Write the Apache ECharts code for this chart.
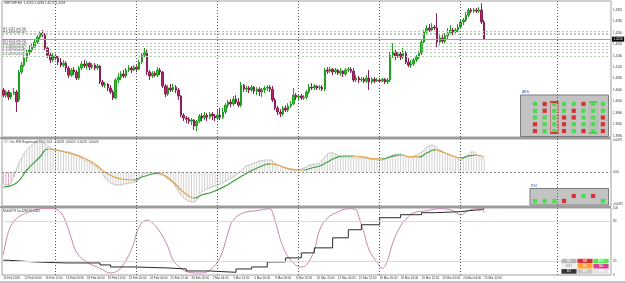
<!DOCTYPE html>
<html><head><meta charset="utf-8">
<script src="https://cdn.jsdelivr.net/npm/echarts@6.0.0/dist/echarts.min.js"></script>
<style>html,body{margin:0;padding:0;background:#fff}#c{width:625px;height:283px}</style>
</head><body><div id="c"></div>
<script>
// ---------- DATA ----------
const slotCount = 233;
const timeLabels = ["11 Feb 2010","12 Feb 04:00","15 Feb 12:00","16 Feb 20:00","18 Feb 04:00","19 Feb 12:00","22 Feb 20:00","24 Feb 04:00","25 Feb 12:00","26 Feb 20:00","2 Mar 04:00","3 Mar 12:00","4 Mar 20:00","8 Mar 04:00","9 Mar 12:00","10 Mar 20:00","12 Mar 04:00","15 Mar 12:00","16 Mar 20:00","18 Mar 04:00","19 Mar 12:00","22 Mar 20:00","24 Mar 04:00","25 Mar 12:00"];
const priceTicks = [1.3880,1.3920,1.3960,1.4000,1.4040,1.4080,1.4120,1.4160,1.4200,1.4240,1.4280,1.4320];
const oscTicks = [-0.0075, 0, 0.0075];
const stochTicks = [0, 20, 80, 100];
const stochLevels = [80, 20];
const separatorIdx = [20, 51, 82, 113, 144, 175, 212];
const levelPrices = [1.42465, 1.42395, 1.4236, 1.42045, 1.4194, 1.41835, 1.4173, 1.4159];
const levelLabels = ["H:1.4247 (w0.03)", "", "H:1.4236 (w0.02)", "M:1.4205 (w0.01)", "M:1.4194 (w0.01)", "L:1.4184 (w0.02)", "L:1.4173 (w0.03)", "L:1.4159 (w0.03)"];
const lastPrice = 1.4218;

const open = [1.4040,1.4022,1.4033,1.4015,1.4029,1.4033,1.4005,1.4103,1.4127,1.4152,
1.4173,1.4180,1.4190,1.4208,1.4225,1.4239,1.4232,1.4187,1.4162,1.4145,
1.4159,1.4152,1.4138,1.4127,1.4134,1.4117,1.4092,1.4110,1.4103,1.4082,
1.4117,1.4131,1.4124,1.4134,1.4120,1.4127,1.4117,1.4124,1.4068,1.4057,
1.4061,1.4047,1.4033,1.4012,1.4075,1.4085,1.4096,1.4089,1.4110,1.4117,
1.4110,1.4120,1.4113,1.4138,1.4162,1.4173,1.4103,1.4089,1.4099,1.4092,
1.4110,1.4103,1.4054,1.4026,1.4047,1.4040,1.4050,1.4040,1.4019,1.3952,
1.3942,1.3938,1.3931,1.3935,1.3914,1.3931,1.3949,1.3942,1.3952,1.3945,
1.3956,1.3949,1.3942,1.3952,1.3945,1.3963,1.3987,1.3998,1.3991,1.4008,
1.3998,1.3987,1.4057,1.4043,1.4047,1.4040,1.4050,1.4036,1.4043,1.4033,
1.4040,1.4047,1.4050,1.4043,1.4005,1.3977,1.3963,1.3956,1.3977,1.3970,
1.3984,1.3991,1.4022,1.4015,1.4019,1.4012,1.4015,1.4033,1.4050,1.4047,
1.4054,1.4047,1.4050,1.4043,1.4110,1.4106,1.4113,1.4103,1.4110,1.4099,
1.4106,1.4096,1.4110,1.4113,1.4106,1.4075,1.4082,1.4075,1.4078,1.4071,
1.4082,1.4068,1.4078,1.4071,1.4075,1.4071,1.4078,1.4068,1.4075,1.4162,
1.4173,1.4159,1.4166,1.4155,1.4169,1.4138,1.4127,1.4131,1.4145,1.4155,
1.4169,1.4208,1.4243,1.4257,1.4250,1.4260,1.4257,1.4208,1.4222,1.4211,
1.4229,1.4239,1.4250,1.4243,1.4250,1.4260,1.4278,1.4285,1.4302,1.4320,
1.4316,1.4320,1.4316,1.4320,1.4278];
const close = [1.4022,1.4033,1.4015,1.4029,1.4033,1.3998,1.4103,1.4127,1.4152,1.4173,
1.4180,1.4190,1.4208,1.4225,1.4239,1.4232,1.4187,1.4162,1.4145,1.4159,
1.4152,1.4138,1.4127,1.4134,1.4117,1.4092,1.4110,1.4103,1.4082,1.4117,
1.4131,1.4124,1.4134,1.4120,1.4127,1.4117,1.4124,1.4068,1.4057,1.4061,
1.4047,1.4033,1.4012,1.4075,1.4085,1.4096,1.4089,1.4110,1.4117,1.4110,
1.4120,1.4113,1.4138,1.4162,1.4173,1.4103,1.4089,1.4099,1.4092,1.4110,
1.4103,1.4054,1.4026,1.4047,1.4040,1.4050,1.4040,1.4019,1.3952,1.3942,
1.3938,1.3931,1.3935,1.3914,1.3931,1.3949,1.3942,1.3952,1.3945,1.3956,
1.3949,1.3942,1.3952,1.3945,1.3963,1.3987,1.3998,1.3991,1.4008,1.3998,
1.3987,1.4057,1.4043,1.4047,1.4040,1.4050,1.4036,1.4043,1.4033,1.4040,
1.4047,1.4050,1.4043,1.4005,1.3977,1.3963,1.3956,1.3977,1.3970,1.3984,
1.3991,1.4022,1.4015,1.4019,1.4012,1.4015,1.4033,1.4050,1.4047,1.4054,
1.4047,1.4050,1.4043,1.4110,1.4106,1.4113,1.4103,1.4110,1.4099,1.4106,
1.4096,1.4110,1.4113,1.4106,1.4075,1.4082,1.4075,1.4078,1.4071,1.4082,
1.4068,1.4078,1.4071,1.4075,1.4071,1.4078,1.4068,1.4075,1.4162,1.4173,
1.4159,1.4166,1.4155,1.4169,1.4138,1.4127,1.4131,1.4145,1.4155,1.4169,
1.4208,1.4243,1.4257,1.4250,1.4260,1.4257,1.4208,1.4222,1.4211,1.4229,
1.4239,1.4250,1.4243,1.4250,1.4260,1.4278,1.4285,1.4302,1.4320,1.4316,
1.4320,1.4316,1.4320,1.4278,1.4218];
const low = [1.4015,1.4012,1.4005,1.4008,1.4022,1.3963,1.3998,1.4096,1.4120,1.4138,
1.4162,1.4169,1.4187,1.4201,1.4215,1.4225,1.4180,1.4152,1.4134,1.4138,
1.4145,1.4127,1.4120,1.4120,1.4103,1.4082,1.4085,1.4092,1.4075,1.4075,
1.4110,1.4117,1.4113,1.4110,1.4113,1.4110,1.4110,1.4061,1.4050,1.4047,
1.4036,1.4026,1.4005,1.4008,1.4064,1.4075,1.4082,1.4082,1.4103,1.4099,
1.4106,1.4103,1.4110,1.4131,1.4155,1.4092,1.4075,1.4082,1.4085,1.4085,
1.4092,1.4047,1.4015,1.4019,1.4033,1.4033,1.4029,1.4005,1.3945,1.3931,
1.3924,1.3921,1.3917,1.3900,1.3896,1.3924,1.3931,1.3935,1.3931,1.3938,
1.3935,1.3931,1.3935,1.3935,1.3938,1.3956,1.3977,1.3980,1.3984,1.3991,
1.3980,1.3980,1.4033,1.4033,1.4029,1.4033,1.4026,1.4022,1.4019,1.4015,
1.4029,1.4036,1.4033,1.3998,1.3970,1.3952,1.3945,1.3949,1.3963,1.3963,
1.3977,1.3987,1.4005,1.4005,1.4005,1.4005,1.4008,1.4026,1.4040,1.4040,
1.4040,1.4040,1.4036,1.4036,1.4096,1.4099,1.4092,1.4096,1.4092,1.4089,
1.4085,1.4089,1.4103,1.4099,1.4068,1.4068,1.4064,1.4068,1.4064,1.4064,
1.4040,1.4061,1.4064,1.4068,1.4064,1.4068,1.4061,1.4061,1.4068,1.4152,
1.4145,1.4152,1.4145,1.4148,1.4131,1.4120,1.4117,1.4124,1.4138,1.4148,
1.4162,1.4201,1.4236,1.4243,1.4243,1.4250,1.4190,1.4197,1.4201,1.4204,
1.4218,1.4232,1.4232,1.4236,1.4243,1.4253,1.4267,1.4278,1.4295,1.4309,
1.4309,1.4309,1.4309,1.4271,1.4215];
const high = [1.4047,1.4040,1.4040,1.4033,1.4047,1.4040,1.4110,1.4138,1.4162,1.4180,
1.4197,1.4204,1.4215,1.4232,1.4246,1.4250,1.4239,1.4190,1.4173,1.4169,
1.4166,1.4159,1.4152,1.4145,1.4141,1.4124,1.4117,1.4120,1.4110,1.4124,
1.4141,1.4145,1.4141,1.4138,1.4134,1.4134,1.4131,1.4127,1.4075,1.4068,
1.4064,1.4057,1.4040,1.4082,1.4099,1.4106,1.4110,1.4117,1.4127,1.4124,
1.4127,1.4127,1.4145,1.4169,1.4187,1.4180,1.4110,1.4106,1.4106,1.4120,
1.4117,1.4106,1.4061,1.4057,1.4061,1.4061,1.4057,1.4047,1.4022,1.3959,
1.3949,1.3945,1.3942,1.3938,1.3935,1.3956,1.3959,1.3963,1.3959,1.3963,
1.3963,1.3956,1.3970,1.3977,1.3977,1.3994,1.4005,1.4008,1.4019,1.4022,
1.4012,1.4068,1.4061,1.4054,1.4054,1.4057,1.4054,1.4050,1.4050,1.4047,
1.4054,1.4057,1.4057,1.4054,1.4012,1.3984,1.3973,1.3984,1.3987,1.3994,
1.4001,1.4047,1.4029,1.4026,1.4026,1.4022,1.4040,1.4061,1.4064,1.4061,
1.4057,1.4057,1.4057,1.4117,1.4120,1.4120,1.4117,1.4117,1.4113,1.4117,
1.4110,1.4117,1.4120,1.4120,1.4117,1.4092,1.4089,1.4085,1.4085,1.4092,
1.4110,1.4085,1.4085,1.4082,1.4082,1.4082,1.4082,1.4082,1.4173,1.4204,
1.4180,1.4173,1.4173,1.4187,1.4176,1.4152,1.4145,1.4152,1.4162,1.4176,
1.4215,1.4250,1.4267,1.4271,1.4274,1.4267,1.4309,1.4232,1.4236,1.4239,
1.4257,1.4267,1.4257,1.4257,1.4271,1.4285,1.4292,1.4313,1.4327,1.4327,
1.4327,1.4327,1.4330,1.4344,1.4285];

// oscillator (fast line, also drawn as histogram)
const oscFast = [-0.00281,-0.00305,-0.00305,-0.00234,-0.00117,0.00047,0.00211,0.00328,0.00445,0.00516,
0.00586,0.00633,0.00680,0.00727,0.0075,0.00703,0.00656,0.00609,0.00563,0.00539,
0.00516,0.00516,0.00492,0.00492,0.00469,0.00469,0.00445,0.00422,0.00398,0.00352,
0.00328,0.00281,0.00258,0.00211,0.00188,0.00141,0.00117,0.00047,-0.00047,-0.00141,
-0.00211,-0.00258,-0.00281,-0.00305,-0.00305,-0.00305,-0.00281,-0.00281,-0.00258,-0.00258,
-0.00234,-0.00234,-0.00164,-0.00094,-0.00047,-0.00023,-0.00023,-0.00023,-0.00047,-0.00047,
-0.00070,-0.00070,-0.00117,-0.00164,-0.00211,-0.00258,-0.00352,-0.00445,-0.00539,-0.00609,
-0.00656,-0.00680,-0.00703,-0.00703,-0.00656,-0.00563,-0.00469,-0.00422,-0.00398,-0.00375,
-0.00352,-0.00328,-0.00305,-0.00281,-0.00258,-0.00211,-0.00188,-0.00141,-0.00117,-0.00070,
-0.00023,0.00023,0.00094,0.00141,0.00164,0.00188,0.00211,0.00234,0.00258,0.00258,
0.00281,0.00281,0.00281,0.00258,0.00211,0.00164,0.00141,0.00117,0.00094,0.00094,
0.00070,0.00070,0.00047,0.00047,0.00070,0.00094,0.00117,0.00164,0.00164,0.00188,
0.00188,0.00211,0.00281,0.00352,0.00422,0.00445,0.00445,0.00422,0.00398,0.00352,
0.00352,0.00352,0.00352,0.00352,0.00328,0.00328,0.00328,0.00328,0.00328,0.00328,
0.00305,0.00305,0.00305,0.00281,0.00281,0.00281,0.00305,0.00352,0.00375,0.00398,
0.00422,0.00422,0.00422,0.00398,0.00375,0.00352,0.00352,0.00375,0.00398,0.00422,
0.00469,0.00516,0.00586,0.00609,0.00633,0.00609,0.00563,0.00516,0.00492,0.00445,
0.00422,0.00398,0.00375,0.00352,0.00305,0.00281,0.00328,0.00375,0.00422,0.00469,
0.00469,0.00422,0.00375,0.00328,0.00281];
// signal line (sampled points) and its direction segments
const sigIdx = [0,5,9,14,17,20,25,30,35,40,45,50,53,57,59,62,65,68,71,73,76,80,85,90,94,98,102,105,108,112,115,118,121,124,127,130,134,138,142,145,148,152,156,159,162,165,168,171,175,178,181,184];
const sigVal = [-0.00352,-0.00258,0.00047,0.00352,0.00539,0.00516,0.00445,0.00352,0.00188,-0.00047,-0.00164,-0.00188,-0.00117,-0.00047,-0.00023,-0.00094,-0.00234,-0.00422,-0.00563,-0.00609,-0.00539,-0.00469,-0.00328,-0.00141,0,0.00117,0.00188,0.00164,0.00094,0.00047,0.00047,0.00094,0.00141,0.00234,0.00328,0.00375,0.00375,0.00352,0.00305,0.00305,0.00352,0.00398,0.00352,0.00352,0.00445,0.00516,0.00469,0.00398,0.00328,0.00375,0.00398,0.00352];
const sigSegStart = [0,17,50,59,73,102,115,134,145,152,159,165,175,181];
const sigSegDir   = ['up','down','up','down','up','down','up','down','up','down','up','down','up','down'];

// lower pane
const stochIdx = [0,2,4,6,9,11,15,19,22,24,26,28,32,37,41,44,47,50,51,53,55,57,60,63,65,68,71,75,79,83,86,88,92,97,102,103,105,107,110,114,116,119,121,124,128,132,135,136,138,140,143,145,147,149,152,155,157,162,167,172,175,178,181,183,184];
const stochVal = [30,65,80,87,93,96,99,99,93,78,55,34,19,10,3,7,22,48,63,78,82,78,64,42,22,10,4,3,7,27,63,82,93,96,99,93,67,42,22,12,15,37,67,85,94,99,97,87,63,37,19,10,22,48,73,87,93,96,99,96,90,96,99,99,93];
const trendIdx = [0,2,12,24,37,41,50,63,70,79,89,95,101,108,114,119,126,132,137,144,152,160,165,175,178,183,184];
const trendVal = [22,19.5,18,18,15,12,10.5,9,6,4,9,12,19.5,25.5,33,40.5,55.5,67.5,75,85.5,90,93,94.5,96,97.5,99,99];

// panels
const tfNames = ['M1','M5','M15','H1','H4','D1','W1','MN'];
const maPeriods = ['7','21','42','89','144'];
const trendMatrix = [
  [1,0,1,1,1,0,1,1],
  [1,0,1,1,0,1,1,1],
  [1,1,1,0,0,1,1,0],
  [0,1,1,0,1,1,1,0],
  [0,1,1,0,1,0,1,0]];
const highlightCols = ['M15','W1'];
const rsiState = [1,1,1,0,0,1,0,1];
const rsiRow   = ['lo','lo','lo','lo','hi','hi','hi','lo'];
const legendNames = [['M1','M5','M15'],['M30','H1','H4'],['D1','W1','MN']];

// ---------- STYLE ----------
const UP='#2fc12f', DOWN='#b02868', ORANGE='#e6a040', GREENL='#3c9e3c';
const legendBg = [['#a9a9a9','#d00000','#30e030'],['#ececec','#ff8a00','#cc1478'],['#000000','#b9b9b9','#dcdcdc']];
const legendFg = [['#fff','#fff','#fff'],['#9a9a9a','#fff','#fff'],['#fff','#fff','#fff']];
const hlColor = ['#d02020','#3ccf3c'];
const FONT = 'Liberation Sans, Arial, sans-serif';

const cats = Array.from({length: slotCount}, (_, i) => String(i));
const candleData = open.map((o, i) => [o, close[i], low[i], high[i]]);
const sepLines = separatorIdx.map(i => ({xAxis: String(i), lineStyle: {type: [1, 2], color: '#555', width: 1}, label: {show: false}}));
const levelLines = levelPrices.map((p, k) => ({yAxis: p, lineStyle: {type: [2, 2], color: '#b4cdb4', width: 1},
  label: {show: !!levelLabels[k], formatter: levelLabels[k], position: 'insideStartTop', distance: [1, 0.5], fontSize: 3, color: '#555', fontFamily: FONT}}));
const pieces = sigSegStart.map((s, k) => ({gte: s, lt: k + 1 < sigSegStart.length ? sigSegStart[k + 1] : 1000, color: sigSegDir[k] === 'up' ? GREENL : ORANGE}));

const gridBase = {left: 2, right: 14, show: true, borderColor: '#a0a0a0', borderWidth: 1, backgroundColor: 'transparent', outerBoundsMode: 'none', containLabel: false};
const hiddenX = (gi, showLabels) => ({type: 'category', gridIndex: gi, data: cats, boundaryGap: true,
  axisLine: {show: false}, axisTick: {show: false}, splitLine: {show: false},
  axisLabel: showLabels ? {show: true, interval: 7, align: 'left', fontSize: 3, margin: 2, color: '#333', fontFamily: FONT,
    formatter: (v, idx) => (idx % 8 === 0 && timeLabels[idx / 8]) ? timeLabels[idx / 8] : ''} : {show: false}});
const valY = (gi, min, max, ticks, fmt) => ({type: 'value', gridIndex: gi, position: 'right', min, max, scale: true,
  axisLine: {show: false}, axisTick: {show: false}, splitLine: {show: false},
  axisLabel: {show: true, customValues: ticks, fontSize: 3, margin: 2, color: '#333', fontFamily: FONT, formatter: fmt}});

const tableData = [];
trendMatrix.forEach((row, r) => row.forEach((v, c) => tableData.push({value: [tfNames[c], maPeriods[r]], itemStyle: {color: v ? '#31e031' : '#d81010'}})));
const rsiData = rsiState.map((v, c) => ({value: [tfNames[c], rsiRow[c]], itemStyle: {color: v ? '#31e031' : '#d81010'}}));
const legendData = [];
legendNames.forEach((row, r) => row.forEach((n, c) => legendData.push({value: [String(c), String(r)], name: n,
  itemStyle: {color: legendBg[r][c]}, label: {color: legendFg[r][c]}})));

const option = {
  animation: false,
  textStyle: {fontFamily: FONT},
  grid: [
    Object.assign({}, gridBase, {top: 1, height: 136}),
    Object.assign({}, gridBase, {top: 139, height: 67}),
    Object.assign({}, gridBase, {top: 208, height: 67}),
    {left: 530.1, top: 100.6, width: 77.6, height: 33.8, show: false, outerBoundsMode: 'none', containLabel: false},
    {left: 530.1, top: 193.5, width: 77.6, height: 10, show: false, outerBoundsMode: 'none', containLabel: false},
    {left: 561, top: 258.5, width: 48, height: 15.5, show: false, outerBoundsMode: 'none', containLabel: false}
  ],
  xAxis: [hiddenX(0, false), hiddenX(1, false), hiddenX(2, true),
    {type: 'category', gridIndex: 3, data: tfNames, position: 'top', axisLine: {show: false}, axisTick: {show: false},
      axisLabel: {fontSize: 3, margin: 1, color: '#333', interval: 0, fontFamily: FONT}},
    {type: 'category', gridIndex: 4, data: tfNames, position: 'top', axisLine: {show: false}, axisTick: {show: false},
      axisLabel: {fontSize: 3, margin: 0.5, color: '#333', interval: 0, fontFamily: FONT}},
    {type: 'category', gridIndex: 5, data: ['0','1','2'], show: false}
  ],
  yAxis: [
    valY(0, 1.38755, 1.43515, priceTicks, v => v.toFixed(4)),
    valY(1, -0.00797, 0.00773, oscTicks, v => v === 0 ? '0.00' : v.toFixed(4)),
    valY(2, 0, 100, stochTicks, v => String(v)),
    {type: 'category', gridIndex: 3, data: maPeriods, inverse: true, axisLine: {show: false}, axisTick: {show: false},
      axisLabel: {fontSize: 3, margin: 1.5, color: '#333', interval: 0, fontFamily: FONT}},
    {type: 'category', gridIndex: 4, data: ['lo','hi'], show: false},
    {type: 'category', gridIndex: 5, data: ['0','1','2'], inverse: true, show: false}
  ],
  visualMap: [{type: 'piecewise', show: false, seriesIndex: 3, dimension: 0, pieces: pieces}],
  series: [
    {type: 'candlestick', xAxisIndex: 0, yAxisIndex: 0, data: candleData, barWidth: 2,
      itemStyle: {color: UP, color0: DOWN, borderColor: '#1f9e1f', borderColor0: '#8e1f55', borderWidth: 1},
      markLine: {silent: true, symbol: ['none', 'none'], animation: false, precision: 6,
        data: levelLines.concat(sepLines, [{yAxis: lastPrice, lineStyle: {type: 'solid', color: '#a0a0a0', width: 1},
          label: {show: true, position: 'end', distance: 1, formatter: lastPrice.toFixed(4), fontSize: 3, color: '#fff',
            backgroundColor: '#000', padding: [1, 1.5], fontFamily: FONT}}])}},
    {type: 'bar', xAxisIndex: 1, yAxisIndex: 1, barWidth: 1, z: 1,
      data: oscFast.map((v, i) => i < 5 ? {value: v, itemStyle: {color: '#e7a7c0'}} : v),
      itemStyle: {color: '#d2d2d2'},
      markLine: {silent: true, symbol: ['none', 'none'], animation: false, precision: 6,
        data: [{yAxis: 0, lineStyle: {type: [2, 2], color: '#888', width: 1}, label: {show: false}}].concat(sepLines)}},
    {type: 'line', xAxisIndex: 1, yAxisIndex: 1, data: oscFast, smooth: true, showSymbol: false,
      lineStyle: {color: '#b5b5b5', width: 0.8}, z: 3},
    {type: 'line', xAxisIndex: 1, yAxisIndex: 1, data: sigIdx.map((x, k) => [x, sigVal[k]]), smooth: true, showSymbol: false,
      lineStyle: {width: 1.2}, z: 4},
    {type: 'line', xAxisIndex: 2, yAxisIndex: 2, data: stochIdx.map((x, k) => [x, stochVal[k]]), smooth: 0.4, showSymbol: false,
      lineStyle: {color: '#c687ad', width: 1}, z: 3,
      markLine: {silent: true, symbol: ['none', 'none'], animation: false, precision: 6,
        data: stochLevels.map(v => ({yAxis: v, lineStyle: {type: 'solid', color: '#dadada', width: 1}, label: {show: false}})).concat(sepLines)}},
    {type: 'line', xAxisIndex: 2, yAxisIndex: 2, data: trendIdx.map((x, k) => [x, trendVal[k]]), step: 'end', showSymbol: false,
      lineStyle: {color: '#2a2a2a', width: 1}, z: 4},
    {type: 'scatter', xAxisIndex: 3, yAxisIndex: 3, data: tableData, symbol: 'rect', symbolSize: 4.2, z: 10, silent: true},
    {type: 'scatter', xAxisIndex: 3, yAxisIndex: 3, symbol: 'rect', symbolSize: [8, 31], z: 11, silent: true,
      data: highlightCols.map((c, k) => ({value: [c, '42'], itemStyle: {color: 'transparent', borderColor: hlColor[k], borderWidth: 1}}))},
    {type: 'scatter', xAxisIndex: 4, yAxisIndex: 4, data: rsiData, symbol: 'rect', symbolSize: 4.2, z: 10, silent: true},
    {type: 'scatter', xAxisIndex: 5, yAxisIndex: 5, data: legendData, symbol: 'rect', symbolSize: [15.2, 4.6], z: 10, silent: true,
      label: {show: true, position: 'inside', formatter: p => p.name, fontSize: 3, fontWeight: 'bold', fontFamily: FONT}}
  ],
  graphic: [
    {type: 'rect', shape: {x: 0, y: 137, width: 611, height: 2}, style: {fill: '#9c9c9c'}, z: 20, silent: true},
    {type: 'rect', shape: {x: 0, y: 206, width: 611, height: 2}, style: {fill: '#9c9c9c'}, z: 20, silent: true},
    {type: 'rect', shape: {x: 0, y: 281.5, width: 625, height: 1}, style: {fill: '#8a8a8a'}, z: 20, silent: true},
    {type: 'rect', shape: {x: 520.5, y: 95, width: 88, height: 41.5}, style: {fill: '#c3c3c3', stroke: '#7c7c7c', lineWidth: 1}, z: 5, silent: true},
    {type: 'rect', shape: {x: 530, y: 188.5, width: 78.5, height: 16.5}, style: {fill: '#c3c3c3', stroke: '#7c7c7c', lineWidth: 1}, z: 5, silent: true},
    {type: 'text', x: 522, y: 90, style: {text: 'ABS', fontSize: 3.5, fill: '#2a5fc0', fontFamily: FONT}, z: 20, silent: true},
    {type: 'text', x: 531, y: 184, style: {text: 'RSI', fontSize: 3.5, fill: '#2a5fc0', fontFamily: FONT}, z: 20, silent: true},
    {type: 'text', x: 4, y: 2, style: {text: 'GBPCHF,H4  1.4235 1.4238 1.4215 1.4218', fontSize: 3.2, fill: '#333', fontFamily: FONT}, z: 20, silent: true},
    {type: 'text', x: 4, y: 141, style: {text: '##  Osc RSI Regression 14,9,14,3  0.0028  0.0025  0.0025  0.0023', fontSize: 3.2, fill: '#333', fontFamily: FONT}, z: 20, silent: true},
    {type: 'text', x: 3, y: 210, style: {text: 'MultiDTS 5s-42M 95,1092', fontSize: 3.2, fill: '#333', fontFamily: FONT}, z: 20, silent: true}
  ]
};
const chart = echarts.init(document.getElementById('c'), null, {renderer: 'canvas', width: 625, height: 283});
chart.setOption(option);
</script></body></html>
